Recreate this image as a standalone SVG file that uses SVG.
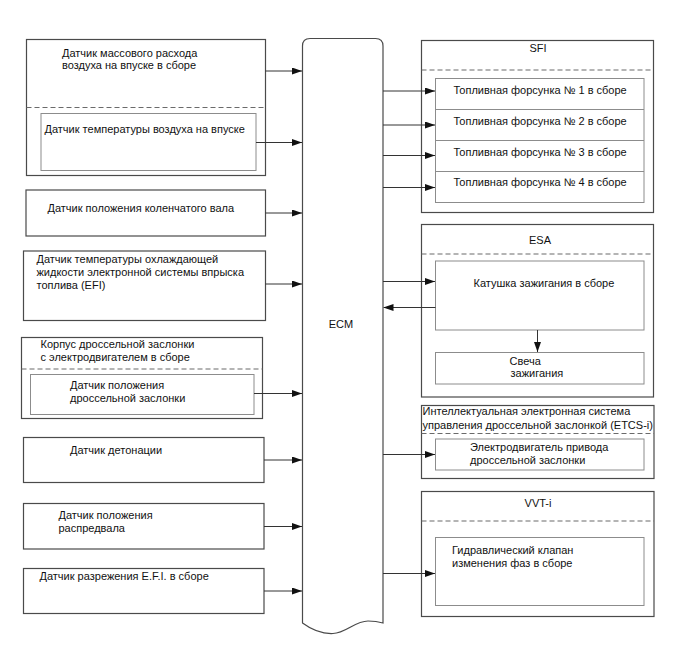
<svg xmlns="http://www.w3.org/2000/svg" width="688" height="658" viewBox="0 0 688 658">
<defs>
<style>
text{font-family:"Liberation Sans",Arial,sans-serif;font-size:11px;fill:#111}
.outer{fill:#fff;stroke:#4a4a4a;stroke-width:1.2}
.inner{fill:#fff;stroke:#8c8c8c;stroke-width:1}
.dash{stroke:#6a6a6a;stroke-width:1.2;stroke-dasharray:5 3;fill:none}
.conn{stroke:#333;stroke-width:1;fill:none;marker-end:url(#ah)}
.mid{text-anchor:middle}
</style>
<marker id="ah" markerUnits="userSpaceOnUse" markerWidth="10" markerHeight="7" refX="10" refY="3.5" orient="auto">
<path d="M0,0 L10,3.5 L0,7 z" fill="#111"/>
</marker>
</defs>
<rect width="688" height="658" fill="#fff"/>

<g id="ecm">
<path class="outer" d="M302.5,623 L302.5,46 Q302.5,38.5 310,38.5 L375.5,38.5 Q383,38.5 383,46 L383,623 C378,621.5 374,621 368,621 C355,621 346,633 333,633.5 C322,634 312,630 302.5,623 Z"/>
<text x="341" y="328" class="mid">ECM</text>
</g>

<g id="maf">
<rect class="outer" x="26.5" y="39.5" width="239" height="136"/>
<text x="62" y="57">Датчик массового расхода</text>
<text x="62" y="69">воздуха на впуске в сборе</text>
<line class="dash" x1="26.5" y1="107.5" x2="265.5" y2="107.5"/>
<rect class="inner" x="41" y="113.5" width="215" height="57"/>
<text x="44.5" y="132.5">Датчик температуры воздуха на впуске</text>
</g>

<g id="ckp">
<rect class="outer" x="26" y="190" width="239.5" height="46"/>
<text x="47.5" y="211.5">Датчик положения коленчатого вала</text>
</g>

<g id="ect">
<rect class="outer" x="23.5" y="251" width="242" height="69.5"/>
<text x="36.5" y="262.5">Датчик температуры охлаждающей</text>
<text x="36.5" y="276">жидкости электронной системы впрыска</text>
<text x="36.5" y="289">топлива (EFI)</text>
</g>

<g id="throttle">
<rect class="outer" x="21.5" y="337.5" width="241" height="81"/>
<text x="40.5" y="348">Корпус дроссельной заслонки</text>
<text x="40.5" y="361">с электродвигателем в сборе</text>
<line class="dash" x1="21.5" y1="369" x2="262.5" y2="369"/>
<rect class="inner" x="30.5" y="374.5" width="223.5" height="40"/>
<text x="70" y="389">Датчик положения</text>
<text x="70" y="401.5">дроссельной заслонки</text>
</g>

<g id="knock">
<rect class="outer" x="23.5" y="437.5" width="240.5" height="45"/>
<text x="70" y="453.5">Датчик детонации</text>
</g>

<g id="cmp">
<rect class="outer" x="23.5" y="503.5" width="240.5" height="45.5"/>
<text x="58.5" y="519">Датчик положения</text>
<text x="58.5" y="531.5">распредвала</text>
</g>

<g id="vac">
<rect class="outer" x="23.5" y="568.5" width="240.5" height="45"/>
<text x="39.5" y="579.5">Датчик разрежения E.F.I. в сборе</text>
</g>

<g id="sfi">
<rect class="outer" x="421.5" y="40.5" width="232" height="172"/>
<text x="538" y="52" class="mid">SFI</text>
<line class="dash" x1="421.5" y1="70" x2="653.5" y2="70"/>
<rect class="inner" x="435.5" y="78.5" width="208.5" height="124"/>
<line class="inner" x1="435.5" y1="109.5" x2="644" y2="109.5"/>
<line class="inner" x1="435.5" y1="140.5" x2="644" y2="140.5"/>
<line class="inner" x1="435.5" y1="171.5" x2="644" y2="171.5"/>
<text x="453.5" y="94">Топливная форсунка № 1 в сборе</text>
<text x="453.5" y="124.5">Топливная форсунка № 2 в сборе</text>
<text x="453.5" y="155.5">Топливная форсунка № 3 в сборе</text>
<text x="453.5" y="186">Топливная форсунка № 4 в сборе</text>
</g>

<g id="esa">
<rect class="outer" x="421.5" y="224.5" width="232" height="172.5"/>
<text x="540" y="243.5" class="mid">ESA</text>
<line class="dash" x1="421.5" y1="254" x2="653.5" y2="254"/>
<rect class="inner" x="435.5" y="261" width="208.5" height="69"/>
<text x="473.5" y="286.5">Катушка зажигания в сборе</text>
<rect class="inner" x="435.5" y="352.5" width="208.5" height="31.5"/>
<text x="509.5" y="365">Свеча</text>
<text x="510.5" y="377">зажигания</text>
</g>

<g id="etcs">
<rect class="outer" x="421.5" y="405.5" width="232.5" height="73"/>
<text x="422.5" y="415">Интеллектуальная электронная система</text>
<text x="422.5" y="429">управления дроссельной заслонкой (ETCS-i)</text>
<line class="dash" x1="421.5" y1="433.5" x2="654" y2="433.5"/>
<rect class="inner" x="435.5" y="439" width="208.5" height="31"/>
<text x="470" y="450.5">Электродвигатель привода</text>
<text x="470" y="463.5">дроссельной заслонки</text>
</g>

<g id="vvt">
<rect class="outer" x="421.5" y="491.5" width="232.5" height="125"/>
<text x="538" y="506.5" class="mid">VVT-i</text>
<line class="dash" x1="421.5" y1="521" x2="654" y2="521"/>
<rect class="inner" x="435.5" y="537.5" width="208.5" height="68"/>
<text x="452" y="554">Гидравлический клапан</text>
<text x="452" y="566.5">изменения фаз в сборе</text>
</g>

<g id="connectors">
<line class="conn" x1="265.5" y1="71" x2="302" y2="71"/>
<line class="conn" x1="256" y1="142.5" x2="302" y2="142.5"/>
<line class="conn" x1="265.5" y1="213" x2="302" y2="213"/>
<line class="conn" x1="265.5" y1="284" x2="302" y2="284"/>
<line class="conn" x1="254" y1="393.5" x2="302" y2="393.5"/>
<line class="conn" x1="264" y1="460" x2="302" y2="460"/>
<line class="conn" x1="264" y1="526.5" x2="302" y2="526.5"/>
<line class="conn" x1="264" y1="591" x2="302" y2="591"/>
<line class="conn" x1="383" y1="91" x2="435" y2="91"/>
<line class="conn" x1="383" y1="125" x2="435" y2="125"/>
<line class="conn" x1="383" y1="155.5" x2="435" y2="155.5"/>
<line class="conn" x1="383" y1="187.5" x2="435" y2="187.5"/>
<line class="conn" x1="383" y1="281.5" x2="435" y2="281.5"/>
<line class="conn" x1="435.5" y1="307.5" x2="383.5" y2="307.5"/>
<line class="conn" x1="537.5" y1="330" x2="537.5" y2="352"/>
<line class="conn" x1="383" y1="454.5" x2="435" y2="454.5"/>
<line class="conn" x1="383" y1="573.5" x2="435" y2="573.5"/>
</g>
</svg>
